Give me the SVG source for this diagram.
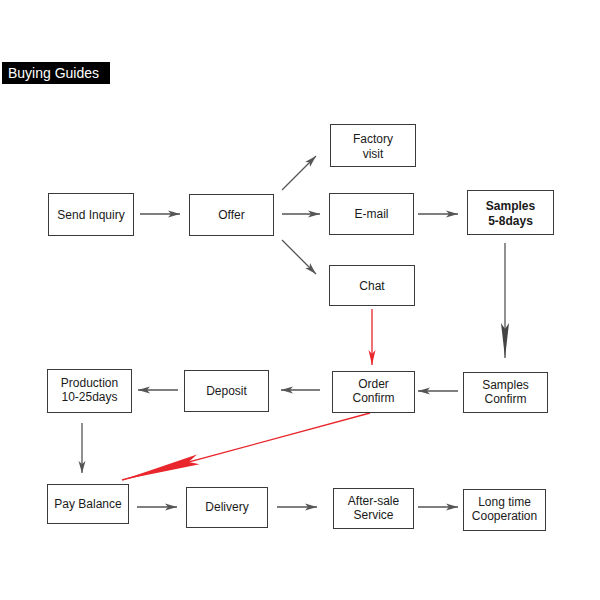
<svg xmlns="http://www.w3.org/2000/svg" width="600" height="600" viewBox="0 0 600 600">
<style>
.box{fill:#fff;stroke:#3a3a3a;stroke-width:1}
.t{font-family:"Liberation Sans",Arial,sans-serif;font-size:12px;fill:#1a1a1a;text-anchor:middle}
.b{font-weight:bold}
.ln{stroke:#555;stroke-width:1.3;fill:none}
.red{stroke:#e8262b;stroke-width:1.3;fill:none}
</style>
<defs>
<marker id="ah" markerUnits="userSpaceOnUse" markerWidth="13" markerHeight="8" refX="12" refY="4" orient="auto">
<path d="M0,0.5 L12,4 L0,7.5 L3,4 z" fill="#555"/>
</marker>
<marker id="ahLong" markerUnits="userSpaceOnUse" markerWidth="36" markerHeight="10" refX="35" refY="5" orient="auto">
<path d="M0,1 L35,5 L0,9 L6,5 z" fill="#444"/>
</marker>
<marker id="ahRed" markerUnits="userSpaceOnUse" markerWidth="16" markerHeight="8" refX="15" refY="4" orient="auto">
<path d="M0,0.5 L15,4 L0,7.5 L4,4 z" fill="#e8262b"/>
</marker>
<marker id="ahRedLong" markerUnits="userSpaceOnUse" markerWidth="80" markerHeight="14" refX="79" refY="7" orient="auto">
<path d="M0,2 L79,7 L0,12 L10,7 z" fill="#e8262b"/>
</marker>
</defs>
<rect width="600" height="600" fill="#fff"/>
<g id="title">
<rect x="2" y="62" width="108" height="22" fill="#000"/>
<text x="8" y="78" font-family="Liberation Sans,Arial,sans-serif" font-size="14" fill="#fff">Buying Guides</text>
</g>
<g id="connectors">
<line class="ln" x1="140" y1="214" x2="180" y2="214" marker-end="url(#ah)"/>
<line class="ln" x1="282" y1="190" x2="316" y2="156" marker-end="url(#ah)"/>
<line class="ln" x1="282" y1="214" x2="320" y2="214" marker-end="url(#ah)"/>
<line class="ln" x1="282" y1="240" x2="316" y2="274" marker-end="url(#ah)"/>
<line class="ln" x1="418" y1="214" x2="458" y2="214" marker-end="url(#ah)"/>
<line class="ln" x1="505" y1="243" x2="505" y2="358" marker-end="url(#ahLong)"/>
<line class="red" x1="372" y1="309" x2="372" y2="365" marker-end="url(#ahRed)"/>
<line class="ln" x1="458" y1="391" x2="418" y2="391" marker-end="url(#ah)"/>
<line class="ln" x1="320" y1="390" x2="281" y2="390" marker-end="url(#ah)"/>
<line class="ln" x1="178" y1="390" x2="138" y2="390" marker-end="url(#ah)"/>
<line class="ln" x1="82" y1="423" x2="82" y2="473" marker-end="url(#ah)"/>
<line class="red" x1="370" y1="413" x2="122" y2="480" marker-end="url(#ahRedLong)"/>
<line class="ln" x1="137" y1="507" x2="177" y2="507" marker-end="url(#ah)"/>
<line class="ln" x1="277" y1="507" x2="317" y2="507" marker-end="url(#ah)"/>
<line class="ln" x1="418" y1="507" x2="458" y2="507" marker-end="url(#ah)"/>
</g>
<g id="send-inquiry"><rect class="box" x="48.5" y="193.5" width="85" height="42"/><text class="t" x="91" y="218.5">Send Inquiry</text></g>
<g id="offer"><rect class="box" x="189.5" y="194.5" width="84" height="41"/><text class="t" x="231.5" y="219">Offer</text></g>
<g id="factory-visit"><rect class="box" x="330.5" y="124.5" width="85" height="42"/><text class="t" x="373" y="143">Factory</text><text class="t" x="373" y="158">visit</text></g>
<g id="email"><rect class="box" x="329.5" y="193.5" width="84" height="41"/><text class="t" x="371.5" y="218">E-mail</text></g>
<g id="samples"><rect class="box" x="467.5" y="190.5" width="86" height="44"/><text class="t b" x="510.5" y="210">Samples</text><text class="t b" x="510.5" y="225">5-8days</text></g>
<g id="chat"><rect class="box" x="329.5" y="265.5" width="85" height="40"/><text class="t" x="372" y="289.5">Chat</text></g>
<g id="order-confirm"><rect class="box" x="332.5" y="371.5" width="82" height="41"/><text class="t" x="373.5" y="388">Order</text><text class="t" x="373.5" y="402">Confirm</text></g>
<g id="samples-confirm"><rect class="box" x="463.5" y="372.5" width="84" height="40"/><text class="t" x="505.5" y="389">Samples</text><text class="t" x="505.5" y="403">Confirm</text></g>
<g id="deposit"><rect class="box" x="184.5" y="370.5" width="84" height="41"/><text class="t" x="226.5" y="394.5">Deposit</text></g>
<g id="production"><rect class="box" x="47.5" y="369.5" width="84" height="43"/><text class="t" x="89.5" y="387">Production</text><text class="t" x="89.5" y="401">10-25days</text></g>
<g id="pay-balance"><rect class="box" x="47.5" y="484.5" width="81" height="39"/><text class="t" x="88" y="508">Pay Balance</text></g>
<g id="delivery"><rect class="box" x="186.5" y="487.5" width="81" height="40"/><text class="t" x="227" y="511">Delivery</text></g>
<g id="after-sale"><rect class="box" x="333.5" y="488.5" width="80" height="40"/><text class="t" x="373.5" y="505">After-sale</text><text class="t" x="373.5" y="519">Service</text></g>
<g id="long-time"><rect class="box" x="463.5" y="489.5" width="82" height="41"/><text class="t" x="504.5" y="506">Long time</text><text class="t" x="504.5" y="520">Cooperation</text></g>
</svg>
